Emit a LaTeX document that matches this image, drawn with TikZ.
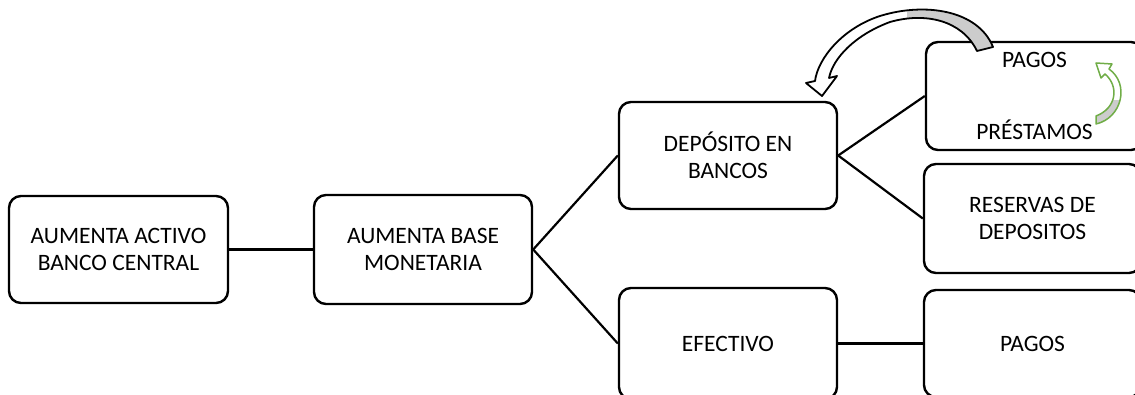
\documentclass[tikz,border=0pt]{standalone}
\usepackage{fontspec}
\setmainfont{Carlito}
\definecolor{leafgreen}{RGB}{112,173,71}
\definecolor{facegray}{RGB}{204,204,204}
\tikzset{
  stage/.style={draw, line width=2.4pt, rounded corners=12pt, align=center,
    font=\fontsize{23.5}{27}\selectfont, inner sep=0pt},
  link/.style={line width=2.2pt},
}
% outline of the block arrow that returns from the payments box
\def\ReturnArrowPath{(993,47) .. controls (978,10) and (925,2) .. (880,16)
  .. controls (843,28) and (818,58) .. (815,81) -- (806,83) -- (822,96)
  -- (837,76) -- (829,78) .. controls (833,58) and (855,35) .. (890,22)
  .. controls (925,12) and (962,20) .. (977,51) -- cycle}
% outline of the small green curl between PAGOS and PRÉSTAMOS
\def\CurlArrowPath{(1096,124) .. controls (1122,118) and (1130,84) .. (1109,69)
  -- (1112,64) -- (1096,63) -- (1101,78) -- (1105,74)
  .. controls (1119,86) and (1117,108) .. (1096,116) -- cycle}
\begin{document}
\begin{tikzpicture}[x=1pt,y=-1pt]
\useasboundingbox (0,0) rectangle (1135,395);
\clip (0,0) rectangle (1135,395);

% boxes
\node[stage, minimum width=219pt, minimum height=107pt] (activo) at (118.5,249.5)
  {AUMENTA ACTIVO\\BANCO CENTRAL};
\node[stage, minimum width=218pt, minimum height=109pt] (base) at (423,249.5)
  {AUMENTA BASE\\MONETARIA};
\node[stage, minimum width=218pt, minimum height=107pt] (deposito) at (728,155.5)
  {DEPÓSITO EN\\BANCOS};
\node[stage, minimum width=218pt, minimum height=111pt] (efectivo) at (728,343.5)
  {EFECTIVO};
\node[stage, minimum width=217pt, minimum height=108pt] (prestamos) at (1034.5,96)
  {PAGOS\\[45pt]PRÉSTAMOS};
\node[stage, minimum width=217pt, minimum height=109pt] (reservas) at (1032.5,218.5)
  {RESERVAS DE\\DEPOSITOS};
\node[stage, minimum width=217pt, minimum height=107pt] (pagos) at (1032.5,343.5)
  {PAGOS};

% connectors
\draw[link] (activo.east) -- (base.west);
\draw[link] (base.east) -- (deposito.west);
\draw[link] (base.east) -- (efectivo.west);
\draw[link] (deposito.east) -- (prestamos.west);
\draw[link] (deposito.east) -- (reservas.west);
\draw[link] (efectivo.east) -- (pagos.west);

% block arrow back to the deposits box
\fill[white] \ReturnArrowPath;
\begin{scope}
  \clip \ReturnArrowPath;
  \fill[facegray] (907,0) rectangle (1000,60);
\end{scope}
\draw[line width=1.8pt, line join=round] \ReturnArrowPath;

% green curl arrow
\fill[white] \CurlArrowPath;
\begin{scope}
  \clip \CurlArrowPath;
  \fill[facegray] (1085,100) rectangle (1135,130);
\end{scope}
\draw[leafgreen, line width=1.5pt, line join=round] \CurlArrowPath;
\end{tikzpicture}
\end{document}
